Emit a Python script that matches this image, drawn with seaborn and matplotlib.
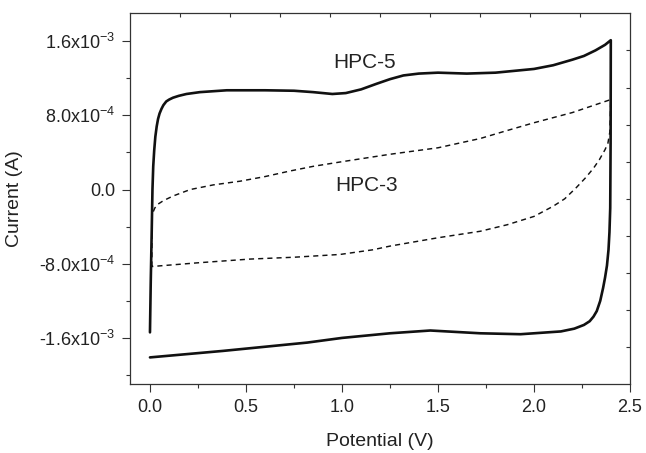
import pandas as pd
import matplotlib.pyplot as plt
import matplotlib.ticker as mticker
import numpy as np
import seaborn as sns

# data (potential in V, current in mA) ----------------------------
hpc5_V = [0.000, 0.004, 0.009, 0.013, 0.017, 0.022, 0.028, 0.035, 0.042, 0.050,
          0.060, 0.070, 0.085, 0.100, 0.120, 0.150, 0.190, 0.260, 0.400, 0.600,
          0.750, 0.850, 0.950, 1.020, 1.100, 1.180, 1.250, 1.320, 1.400, 1.500,
          1.650, 1.800, 1.900, 2.000, 2.100, 2.200, 2.260, 2.320, 2.370, 2.400,
          2.399, 2.397, 2.393, 2.388, 2.380, 2.370, 2.360, 2.345, 2.327, 2.310,
          2.290, 2.260, 2.210, 2.140, 2.000, 1.930, 1.720, 1.460, 1.250, 1.000,
          0.820, 0.380, 0.000]
hpc5_I = [-1.54, -1.00, -0.46, 0.00, 0.25, 0.42, 0.57, 0.68, 0.76, 0.82,
          0.87, 0.91, 0.95, 0.97, 0.99, 1.01, 1.03, 1.05, 1.07, 1.07,
          1.065, 1.05, 1.03, 1.04, 1.08, 1.14, 1.19, 1.23, 1.25, 1.26,
          1.25, 1.26, 1.28, 1.30, 1.34, 1.40, 1.44, 1.50, 1.56, 1.61,
          0.50, -0.20, -0.46, -0.65, -0.82, -0.95, -1.06, -1.20, -1.31, -1.37,
          -1.42, -1.46, -1.50, -1.53, -1.55, -1.56, -1.55, -1.52, -1.55, -1.60,
          -1.65, -1.74, -1.81]

hpc3_V = [0.010, 0.010, 0.015, 0.025, 0.040, 0.070, 0.120, 0.210, 0.330, 0.470,
          0.600, 0.730, 0.850, 1.000, 1.250, 1.500, 1.720, 1.850, 2.000, 2.200,
          2.400, 2.395, 2.385, 2.370, 2.340, 2.310, 2.270, 2.220, 2.160, 2.100,
          2.000, 1.860, 1.720, 1.500, 1.250, 1.160, 0.990, 0.750, 0.520, 0.250,
          0.010]
hpc3_I = [-0.83, -0.30, -0.25, -0.20, -0.16, -0.12, -0.07, 0.00, 0.05, 0.09,
          0.14, 0.20, 0.25, 0.30, 0.38, 0.45, 0.55, 0.63, 0.72, 0.83,
          0.97, 0.62, 0.50, 0.43, 0.32, 0.23, 0.13, 0.02, -0.10, -0.18,
          -0.29, -0.38, -0.45, -0.52, -0.61, -0.65, -0.70, -0.73, -0.75, -0.79,
          -0.83]

yticks = [-1.6e-3, -8.0e-4, 0.0, 8.0e-4, 1.6e-3]
xticks = [0.0, 0.5, 1.0, 1.5, 2.0, 2.5]

df5 = pd.DataFrame({"V": hpc5_V, "I": np.array(hpc5_I) * 1e-3})
df3 = pd.DataFrame({"V": hpc3_V, "I": np.array(hpc3_I) * 1e-3})

# style ----------------------------------------------------------
sns.set_style("ticks")
plt.rcParams['font.family'] = ['Liberation Sans', 'DejaVu Sans']
plt.rcParams['mathtext.fontset'] = 'custom'
plt.rcParams['mathtext.rm'] = 'Liberation Sans'
plt.rcParams['mathtext.it'] = 'Liberation Sans:italic'
txt = "#222222"

fig = plt.figure(figsize=(6.46, 4.53), dpi=100)
rect = [130/646, 1-384.3/453, 500/646, 371/453]
ax = fig.add_axes(rect)

sns.lineplot(data=df5, x="V", y="I", sort=False, estimator=None, ax=ax,
             color="#111111", linewidth=1.9)
sns.lineplot(data=df3, x="V", y="I", sort=False, estimator=None, ax=ax,
             color="#111111", linewidth=1.05, linestyle=(0, (3.5, 2.8)))

ax.set_xlim(-0.104, 2.5)
ax.set_ylim(-2.1e-3, 1.9e-3)
ax.set_xticks(xticks)
ax.set_yticks(yticks)
ax.xaxis.set_minor_locator(mticker.MultipleLocator(0.25))
ax.yaxis.set_minor_locator(mticker.MultipleLocator(4e-4))

def sci(v, pos):
    if v == 0:
        return "0.0"
    e = int(np.floor(np.log10(abs(v)) + 1e-9))
    m = v / 10**e
    return f"{m:.1f}x10$^{{{e}}}$"

ax.yaxis.set_major_formatter(mticker.FuncFormatter(sci))
ax.xaxis.set_major_formatter(mticker.FormatStrFormatter("%.1f"))

ax.tick_params(which="major", direction="out", length=5.5, width=0.8,
               labelsize=13, colors="#333333", labelcolor=txt, pad=5)
ax.tick_params(which="minor", direction="out", length=3, width=0.8, colors="#333333")
for s in ax.spines.values():
    s.set_linewidth(0.9)
    s.set_color("#333333")

ax.set_xlabel("Potential (V)", fontsize=14, color=txt, labelpad=12)
ax.set_ylabel("Current (A)", fontsize=14, color=txt, labelpad=12)

ax.text(1.12, 1.365e-3, "HPC-5", fontsize=15, color=txt, ha="center", va="center")
ax.text(1.13, 0.04e-3, "HPC-3", fontsize=15, color=txt, ha="center", va="center")

# top / right frame ticks split the box in ten parts
ov = fig.add_axes(rect, frameon=False)
ov.set_xlim(0, 1)
ov.set_ylim(0, 1)
ov.patch.set_alpha(0)
ov.set_xticks(np.arange(1, 10) / 10)
ov.set_yticks(np.arange(1, 10) / 10)
ov.xaxis.tick_top()
ov.yaxis.tick_right()
ov.tick_params(direction="in", length=3, width=0.8, colors="#333333",
               labeltop=False, labelright=False)

plt.savefig("out.png", dpi=100)
